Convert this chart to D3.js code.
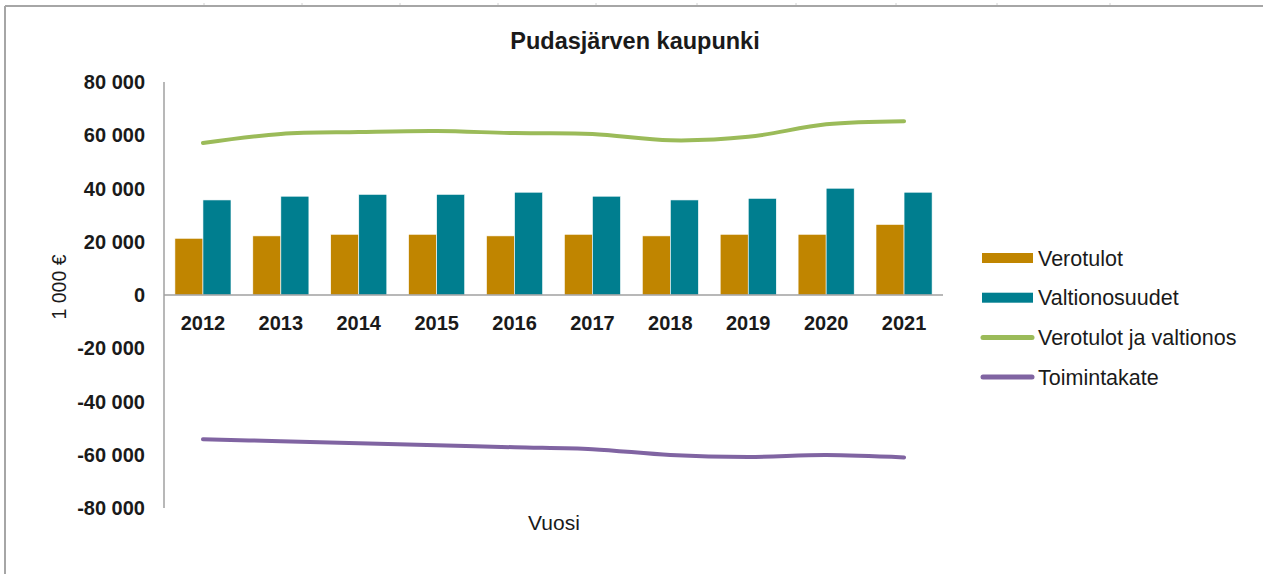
<!DOCTYPE html>
<html>
<head>
<meta charset="utf-8">
<script src="https://cdn.jsdelivr.net/npm/d3@7"></script>
<style>
  html, body { margin: 0; padding: 0; background: #fff; }
  svg { display: block; font-family: "Liberation Sans", Arial, sans-serif; }
</style>
</head>
<body>
<svg id="chart" width="1263" height="574"></svg>
<script>
const title = "Pudasjärven kaupunki";
const years = ["2012","2013","2014","2015","2016","2017","2018","2019","2020","2021"];
const verotulot      = [21300, 22200, 22800, 22800, 22200, 22800, 22200, 22800, 22800, 26500];
const valtionosuudet = [35700, 37100, 37800, 37800, 38600, 37100, 35700, 36300, 40100, 38600];
const yhteensa       = [57100, 60500, 61200, 61600, 60800, 60500, 58100, 59400, 64100, 65300];
const toimintakate   = [-54200, -54900, -55700, -56400, -57200, -57900, -60100, -60800, -60100, -61000];
const yTicks = [80000, 60000, 40000, 20000, 0, -20000, -40000, -60000, -80000];
const seriesNames = ["Verotulot", "Valtionosuudet", "Verotulot ja valtionos", "Toimintakate"];
const yTitle = "1 000 €";
const xTitle = "Vuosi";

(function () {
const colors = {
  Verotulot: "#c08500",
  Valtionosuudet: "#007e8f",
  "Verotulot ja valtionos": "#9bbb59",
  Toimintakate: "#8064a2"
};

const svg = d3.select("#chart");

// frame
const frame = svg.append("g");
frame.append("line").attr("x1", 5).attr("x2", 1263).attr("y1", 6).attr("y2", 6)
  .attr("stroke", "#a6a6a6").attr("stroke-width", 2);
frame.append("line").attr("x1", 5).attr("x2", 5).attr("y1", 6).attr("y2", 574)
  .attr("stroke", "#a6a6a6").attr("stroke-width", 2);
[204, 302, 400, 498, 596, 697, 796, 896, 997, 1110].forEach(px => {
  frame.append("line").attr("x1", px).attr("x2", px).attr("y1", 3).attr("y2", 5)
    .attr("stroke", "#d0d0d0").attr("stroke-width", 1);
});

const pLeft = 164, pRight = 943, pTop = 82, pBottom = 508;

const x = d3.scaleBand().domain(years).range([pLeft, pRight])
  .paddingInner(0.28).paddingOuter(0.14);
const xs = d3.scaleBand().domain(["Verotulot", "Valtionosuudet"]).range([0, x.bandwidth()]);
const y = d3.scaleLinear().domain([-80000, 80000]).range([pBottom, pTop]);

// title
svg.append("text").attr("x", 635).attr("y", 49).attr("text-anchor", "middle")
  .attr("font-size", 23.5).attr("font-weight", "bold").attr("fill", "#1a1a1a").text(title);

// y axis labels
const fmt = v => d3.format(",")(v).replace(/,/g, " ").replace("−", "-");
svg.append("g").selectAll("text").data(yTicks).join("text")
  .attr("x", 145).attr("y", d => y(d)).attr("dy", "0.36em")
  .attr("text-anchor", "end").attr("font-size", 20).attr("font-weight", "bold")
  .attr("fill", "#1a1a1a").text(d => fmt(d));

// bars
const barData = [];
years.forEach((yr, i) => {
  barData.push({ yr, key: "Verotulot", v: verotulot[i] });
  barData.push({ yr, key: "Valtionosuudet", v: valtionosuudet[i] });
});
svg.append("g").selectAll("rect").data(barData).join("rect")
  .attr("x", d => x(d.yr) + xs(d.key))
  .attr("width", xs.bandwidth())
  .attr("y", d => y(Math.max(0, d.v)))
  .attr("height", d => Math.abs(y(d.v) - y(0)))
  .attr("fill", d => colors[d.key])
  .attr("stroke", "#ffffff").attr("stroke-width", 0.6);

// axes lines
svg.append("line").attr("x1", pLeft).attr("x2", pLeft).attr("y1", y(80000)).attr("y2", y(-80000))
  .attr("stroke", "#a0a0a0").attr("stroke-width", 1.5);
svg.append("line").attr("x1", pLeft).attr("x2", pRight).attr("y1", y(0)).attr("y2", y(0))
  .attr("stroke", "#a0a0a0").attr("stroke-width", 1.5);

// x tick labels
svg.append("g").selectAll("text").data(years).join("text")
  .attr("x", d => x(d) + x.bandwidth() / 2).attr("y", 330)
  .attr("text-anchor", "middle").attr("font-size", 20).attr("font-weight", "bold")
  .attr("fill", "#1a1a1a").text(d => d);

// lines
const line = d3.line()
  .x((d, i) => x(years[i]) + x.bandwidth() / 2)
  .y(d => y(d))
  .curve(d3.curveCatmullRom.alpha(0.5));
[["Verotulot ja valtionos", yhteensa], ["Toimintakate", toimintakate]].forEach(([k, arr]) => {
  svg.append("path").attr("d", line(arr)).attr("fill", "none")
    .attr("stroke", colors[k]).attr("stroke-width", 4).attr("stroke-linecap", "round");
});

// axis titles
svg.append("text").attr("transform", "translate(66,287) rotate(-90)")
  .attr("text-anchor", "middle").attr("font-size", 19.5).attr("fill", "#1a1a1a").text(yTitle);
svg.append("text").attr("x", 554).attr("y", 530).attr("text-anchor", "middle")
  .attr("font-size", 21).attr("fill", "#1a1a1a").text(xTitle);

// legend
const lg = svg.append("g");
seriesNames.forEach((name, i) => {
  const cy = 258 + i * 39.7;
  if (i < 2) {
    lg.append("rect").attr("x", 982).attr("y", cy - 5).attr("width", 51).attr("height", 10)
      .attr("fill", colors[name]);
  } else {
    lg.append("line").attr("x1", 983).attr("x2", 1032).attr("y1", cy).attr("y2", cy)
      .attr("stroke", colors[name]).attr("stroke-width", 5).attr("stroke-linecap", "round");
  }
  lg.append("text").attr("x", 1038).attr("y", cy).attr("dy", "0.36em")
    .attr("font-size", 21.5).attr("fill", "#1a1a1a").text(name);
});
})();
</script>
</body>
</html>
